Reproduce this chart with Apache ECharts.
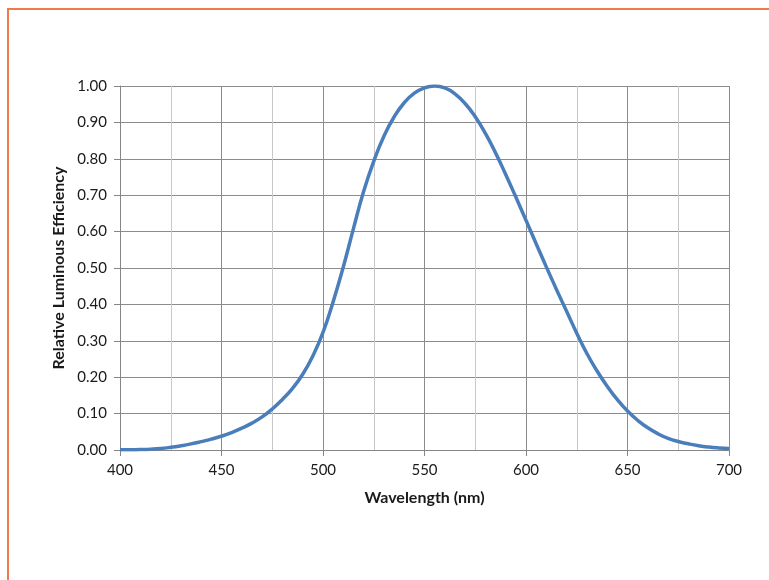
<!DOCTYPE html>
<html>
<head>
<meta charset="utf-8">
<script src="https://cdn.jsdelivr.net/npm/echarts@6/dist/echarts.min.js"></script>
<style>
html,body{margin:0;padding:0;background:#fff;}
#c{width:769px;height:580px;}
</style>
</head>
<body>
<div id="c"></div>
<script>
const wavelengths = [400,405,410,415,420,425,430,435,440,445,450,455,460,465,470,475,480,485,490,495,500,505,510,515,520,525,530,535,540,545,550,555,560,565,570,575,580,585,590,595,600,605,610,615,620,625,630,635,640,645,650,655,660,665,670,675,680,685,690,695,700];
const efficiency = [0.0004,0.0006,0.0012,0.0022,0.0040,0.0073,0.0116,0.0168,0.023,0.0298,0.038,0.048,0.060,0.0739,0.091,0.1126,0.139,0.1693,0.208,0.2586,0.323,0.4073,0.503,0.6082,0.710,0.7932,0.862,0.9149,0.954,0.9803,0.995,1.0,0.995,0.9786,0.952,0.9154,0.870,0.8163,0.757,0.6949,0.631,0.5668,0.503,0.4412,0.381,0.321,0.265,0.217,0.175,0.1382,0.107,0.0816,0.061,0.0446,0.032,0.0232,0.017,0.0119,0.0082,0.0057,0.0041];
const xTitle = "Wavelength (nm)";
const yTitle = "Relative Luminous Efficiency";

const font = "Lato, 'Open Sans', sans-serif";
const chart = echarts.init(document.getElementById('c'), null, {renderer:'canvas'});
chart.setOption({
  animation:false,
  backgroundColor:'#ffffff',
  graphic:[{type:'rect', shape:{x:8,y:9,width:800,height:620}, style:{fill:'none', stroke:'#EF7A4C', lineWidth:2}, silent:true}],
  grid:{left:120, right:40, top:86, bottom:130},
  xAxis:{
    type:'value', min:400, max:700, interval:50,
    name:xTitle, nameLocation:'middle', nameGap:40,
    nameTextStyle:{fontFamily:font, fontWeight:'bold', fontSize:16, color:'#1a1a1a'},
    axisLine:{show:true, lineStyle:{color:'#868686', width:1}},
    axisTick:{show:true, length:6, lineStyle:{color:'#868686'}},
    axisLabel:{fontFamily:font, fontSize:15, color:'#1a1a1a', margin:13, formatter:v=>String(v)},
    splitLine:{show:true, lineStyle:{color:'#8c8c8c', width:1}},
    minorTick:{show:false, splitNumber:2},
    minorSplitLine:{show:true, lineStyle:{color:'#c8c8c8', width:1}}
  },
  yAxis:{
    type:'value', min:0, max:1, interval:0.1,
    name:yTitle, nameLocation:'middle', nameGap:53, nameRotate:90,
    nameTextStyle:{fontFamily:font, fontWeight:'bold', fontSize:16, color:'#1a1a1a'},
    axisLine:{show:true, lineStyle:{color:'#868686', width:1}},
    axisTick:{show:true, length:6, lineStyle:{color:'#868686'}},
    axisLabel:{fontFamily:font, fontSize:15, color:'#1a1a1a', margin:13, formatter:v=>v.toFixed(2)},
    splitLine:{show:true, lineStyle:{color:'#8c8c8c', width:1}}
  },
  series:[{
    type:'line', smooth:true, showSymbol:false,
    data: wavelengths.map((w,i)=>[w, efficiency[i]]),
    lineStyle:{color:'#4A7EBB', width:3.5}
  }]
});
</script>
</body>
</html>
